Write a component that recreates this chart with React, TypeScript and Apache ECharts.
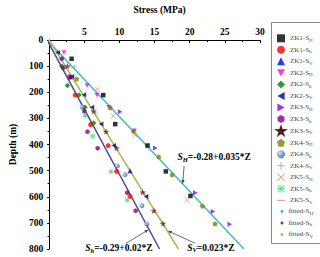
import React, { useEffect, useRef } from 'react';
import * as echarts from 'echarts';

const FONT = "'Liberation Serif', 'Times New Roman', serif";

// x tick labels (stress, MPa) and y tick labels (depth, m)
const xTicks = [0, 5, 10, 15, 20, 25, 30];
const yTicks = [0, 100, 200, 300, 400, 500, 600, 700, 800];

// measured points [stress (MPa), depth (m)]
const zk1SH = [[3.2, 72], [7.7, 211], [9.4, 322], [14.0, 404], [16.6, 503], [20.1, 597]];
const zk1Sh = [[2.9, 140], [3.7, 211], [5.9, 324], [8.4, 404], [9.6, 503], [11.5, 599]];
const zk1Sv = [[3.0, 142], [11.5, 500]];
const zk2SH = [[2.1, 48], [5.4, 174], [6.8, 211], [8.5, 257], [12.1, 347]];
const zk2Sh = [[1.8, 100], [2.6, 174], [4.25, 211], [5.1, 257], [6.35, 318]];
const zk2Sv = [[1.2, 48], [3.25, 140], [4.95, 210], [6.1, 257], [7.4, 322], [9.2, 404], [13.8, 599]];
const zk3SH = [[10.1, 275], [15.1, 413], [20.8, 585], [23.3, 656], [25.7, 705]];
const zk3Sh = [[1.8, 72], [2.0, 107], [5.0, 273], [5.45, 351], [6.9, 414], [11.1, 585], [12.3, 654]];
const zk3Sv = [[2.6, 100], [6.35, 273], [8.1, 351], [9.6, 414], [13.3, 583], [14.9, 654], [16.2, 703]];
const zk4SH = [[3.9, 149], [8.7, 259], [12.0, 349], [15.6, 447], [17.5, 516], [21.8, 635], [23.6, 703]];
const zk4Sh = [[4.7, 257], [9.7, 482], [10.8, 515], [13.2, 634], [13.9, 705]];
const zk4Sv = [[3.6, 103], [6.6, 280]];
const zk5SH = [[6.9, 189], [9.1, 290], [12.2, 364], [19.6, 613]];
const zk5Sh = [[5.1, 288], [6.2, 368], [8.8, 503], [11.1, 613]];
const zk5Sv = [[2.9, 103]];

// fitted lines (end points from the printed equations)
const fitSH = [[-0.28, 0], [27.72, 800]];
const fitSh = [[-0.29, 0], [15.71, 800]];
const fitSv = [[0, 0], [18.4, 800]];

const P_TRI_DOWN = 'path://M0,0L10,0L5,9Z';
const P_TRI_LEFT = 'path://M10,0L10,10L1,5Z';
const P_TRI_RIGHT = 'path://M0,0L9,5L0,10Z';
const P_HEX = 'path://M5,0L9.33,2.5L9.33,7.5L5,10L0.67,7.5L0.67,2.5Z';
const P_PENT = 'path://M5,0L10,3.8L8.1,10L1.9,10L0,3.8Z';
const P_STAR = 'path://M5,0L6.2,3.6L10,3.6L6.9,5.9L8.1,9.5L5,7.3L1.9,9.5L3.1,5.9L0,3.6L3.8,3.6Z';
const P_PLUS = 'path://M4.4,0H5.6V4.4H10V5.6H5.6V10H4.4V5.6H0V4.4H4.4Z';
const P_CROSS = 'path://M0.8,0L5,4.2L9.2,0L10,0.8L5.8,5L10,9.2L9.2,10L5,5.8L0.8,10L0,9.2L4.2,5L0,0.8Z';
const P_AST = 'path://M4.4,0H5.6V4.4H10V5.6H5.6V10H4.4V5.6H0V4.4H4.4Z M1.2,0.4L5,4.2L8.8,0.4L9.6,1.2L5.8,5L9.6,8.8L8.8,9.6L5,5.8L1.2,9.6L0.4,8.8L4.2,5L0.4,1.2Z';
const P_DASH = 'path://M0,4.4H10V5.6H0Z';

const ball = new echarts.graphic.RadialGradient(0.35, 0.35, 0.75, [
  { offset: 0, color: '#b8d8f8' },
  { offset: 1, color: '#1f4f8f' },
]);

const scatterDefs: [string, any, string, number, number[][]][] = [
  ['ZK1-S_H', 'rect', '#000000', 4.5, zk1SH],
  ['ZK1-S_h', 'circle', '#ff0000', 5, zk1Sh],
  ['ZK1-S_V', 'triangle', '#0000ff', 5, zk1Sv],
  ['ZK2-S_H', P_TRI_DOWN, '#ff00ff', 5, zk2SH],
  ['ZK2-S_h', 'diamond', '#008000', 5.5, zk2Sh],
  ['ZK2-S_V', P_TRI_LEFT, '#000080', 5, zk2Sv],
  ['ZK3-S_H', P_TRI_RIGHT, '#8000ff', 5, zk3SH],
  ['ZK3-S_h', P_HEX, '#800080', 5, zk3Sh],
  ['ZK3-S_V', P_STAR, '#a01010', 5.5, zk3Sv],
  ['ZK4-S_H', P_PENT, '#808000', 5, zk4SH],
  ['ZK4-S_h', 'circle', ball as any, 5, zk4Sh],
  ['ZK4-S_V', P_PLUS, '#6aa8cc', 5.5, zk4Sv],
  ['ZK5-S_H', P_CROSS, '#c89060', 5.5, zk5SH],
  ['ZK5-S_h', P_AST, '#33cc66', 5.5, zk5Sh],
  ['ZK5-S_V', P_DASH, '#cc66aa', 6, zk5Sv],
];

const fitDefs: [string, string, number[][]][] = [
  ['fitted-S_H', '#3cc0c8', fitSH],
  ['fitted-S_h', '#4a4a98', fitSh],
  ['fitted-S_V', '#a8bc50', fitSv],
];

const legendRich = {
  a: { fontFamily: FONT, fontSize: 7, color: '#444', lineHeight: 9, verticalAlign: 'middle' },
  s: { fontFamily: FONT, fontSize: 5, color: '#444', lineHeight: 9, verticalAlign: 'bottom' },
};
const legendFmt = (name: string) => {
  const [pre, sub] = name.split('_');
  return `{a|${pre}}{s|${sub}}`;
};

export default function App() {
  const ref = useRef<HTMLDivElement>(null);
  useEffect(() => {
    const chart = echarts.init(ref.current!, null, { renderer: 'svg' });
    const series: any[] = [];
    fitDefs.forEach(([name, color, data]) => {
      series.push({
        name,
        type: 'line',
        data,
        showSymbol: false,
        symbol: 'circle',
        symbolSize: 3,
        lineStyle: { color, width: 1.5 },
        itemStyle: { color },
        z: 1,
      });
    });
    scatterDefs.forEach(([name, symbol, color, size, data]) => {
      series.push({
        name,
        type: 'scatter',
        data,
        symbol,
        symbolSize: size,
        symbolKeepAspect: true,
        itemStyle: name === 'ZK3-S_V' ? { color, borderColor: '#300', borderWidth: 0.3 } : { color },
        z: 3,
      });
    });

    const option: any = {
      animation: false,
      backgroundColor: '#ffffff',
      grid: { left: 43, top: 33, right: 60, bottom: 8 },
      xAxis: {
        type: 'value',
        position: 'top',
        min: xTicks[0],
        max: xTicks[xTicks.length - 1],
        interval: 5,
        name: 'Stress (MPa)',
        nameLocation: 'middle',
        nameGap: 25,
        nameTextStyle: { fontFamily: FONT, fontSize: 9.5, fontWeight: 'bold', color: '#000', padding: [0, 0, 0, 10] },
        axisLine: { show: true, lineStyle: { color: '#000', width: 1 } },
        axisTick: { show: true, inside: true, length: 3, lineStyle: { color: '#000' } },
        minorTick: { show: true, splitNumber: 2, length: 2, lineStyle: { color: '#000' } },
        axisLabel: { showMinLabel: false, margin: 3, fontFamily: FONT, fontSize: 9.5, fontWeight: 'bold', color: '#000' },
        splitLine: { show: false },
      },
      yAxis: {
        type: 'value',
        inverse: true,
        min: yTicks[0],
        max: yTicks[yTicks.length - 1],
        interval: 100,
        name: 'Depth (m)',
        nameLocation: 'middle',
        nameGap: 31,
        nameTextStyle: { fontFamily: FONT, fontSize: 9.5, fontWeight: 'bold', color: '#000' },
        axisLine: { show: true, lineStyle: { color: '#000', width: 1 } },
        axisTick: { show: true, inside: false, length: 2, lineStyle: { color: '#000' } },
        minorTick: { show: true, splitNumber: 2, length: 1.5, lineStyle: { color: '#000' } },
        axisLabel: { margin: 6, fontFamily: FONT, fontSize: 9.5, fontWeight: 'bold', color: '#000' },
        splitLine: { show: false },
      },
      legend: [
        {
          orient: 'vertical',
          left: 276,
          top: 33.8,
          itemWidth: 8,
          itemHeight: 8,
          itemGap: 2.53,
          padding: 0,
          data: scatterDefs.map((d) => d[0]),
          formatter: legendFmt,
          textStyle: { rich: legendRich, lineHeight: 9 },
        },
        {
          orient: 'vertical',
          left: 280.5,
          top: 206.9,
          itemWidth: 3,
          itemHeight: 3,
          itemGap: 2.53,
          padding: 0,
          icon: 'circle',
          data: fitDefs.map((d) => d[0]),
          formatter: legendFmt,
          textStyle: { rich: legendRich, lineHeight: 9 },
        },
      ],
      series,
    };
    chart.setOption(option);

    const px = (p: number[]) => chart.convertToPixel({ gridIndex: 0 }, p) as number[];
    const annRich = {
      i: { fontFamily: FONT, fontSize: 9.5, fontWeight: 'bold', fontStyle: 'italic', fill: '#000', lineHeight: 11, verticalAlign: 'middle' },
      s: { fontFamily: FONT, fontSize: 6.5, fontWeight: 'bold', fontStyle: 'italic', fill: '#000', lineHeight: 11, verticalAlign: 'bottom' },
      b: { fontFamily: FONT, fontSize: 9.5, fontWeight: 'bold', fill: '#000', lineHeight: 11, verticalAlign: 'middle' },
    };
    const anns: [string, string, number[], number[], number[]][] = [
      ['H', '=-0.28+0.035*Z', [18.26, 449], [19.2, 482], [19.0, 551]],
      ['V', '=0.023*Z', [19.64, 796], [20.75, 778], [16.88, 730]],
      ['h', '=-0.29+0.02*Z', [5.14, 798], [10.9, 779], [14.15, 726]],
    ];
    const graphic: any[] = [
      {
        type: 'rect',
        shape: { x: 271.5, y: 22.5, width: 60, height: 221 },
        style: { fill: 'none', stroke: '#888', lineWidth: 1 },
        z: 0,
      },
    ];
    anns.forEach(([sub, rest, tpos, a0, a1]) => {
      const t = px(tpos);
      const s = px(a0);
      const e = px(a1);
      graphic.push({
        type: 'text',
        x: t[0],
        y: t[1],
        style: {
          text: `{i|S}{s|${sub}}{b|${rest}}`,
          rich: annRich,
          verticalAlign: 'middle',
          align: 'left',
        },
        z: 10,
      });
      const dx = e[0] - s[0];
      const dy = e[1] - s[1];
      const L = Math.sqrt(dx * dx + dy * dy);
      const ux = dx / L;
      const uy = dy / L;
      const hl = 4;
      const hw = 1.6;
      const bx = e[0] - ux * hl;
      const by = e[1] - uy * hl;
      graphic.push({
        type: 'line',
        shape: { x1: s[0], y1: s[1], x2: bx, y2: by },
        style: { stroke: '#444', lineWidth: 0.8 },
        z: 10,
      });
      graphic.push({
        type: 'polygon',
        shape: {
          points: [
            [e[0], e[1]],
            [bx - uy * hw, by + ux * hw],
            [bx + uy * hw, by - ux * hw],
          ],
        },
        style: { fill: '#444' },
        z: 10,
      });
    });
    chart.setOption({ graphic });

    return () => chart.dispose();
  }, []);
  return <div ref={ref} style={{ position: 'fixed', left: 0, top: 0, width: 320, height: 257 }} />;
}
